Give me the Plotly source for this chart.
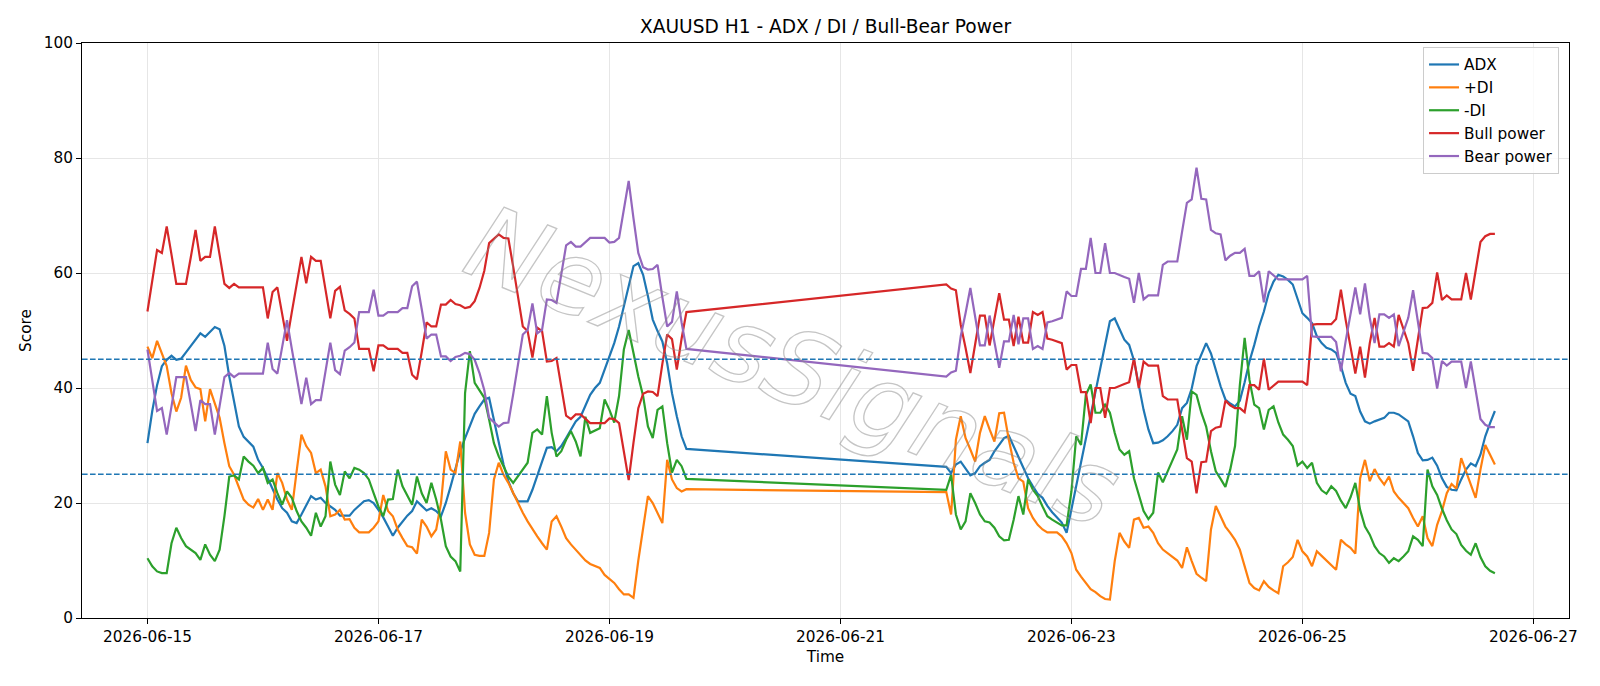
import pandas as pd
import plotly.graph_objects as go

# ---- time axis: two hourly trading segments (weekend gap is bridged by the lines) ----
segment_a = ("2026-06-15 00:00", "2026-06-19 16:00")
segment_b = ("2026-06-21 22:00", "2026-06-26 16:00")

# ---- series values (first 113 = segment A, next 115 = segment B) ----
adx = [
    30.4, 36.0, 40.5, 43.8, 44.9, 45.6, 44.9, 45.1, 46.2, 47.3, 48.3, 49.5,
    48.9, 49.8, 50.6, 50.2, 47.3, 42.0, 37.4, 33.3, 31.5, 30.7, 29.8, 27.5,
    26.1, 24.3, 22.3, 20.6, 19.1, 18.3, 16.8, 16.5, 18.0, 19.7, 21.2, 20.6,
    20.9, 20.0, 19.4, 18.8, 17.8, 17.8, 17.8, 18.8, 19.5, 20.3, 20.5, 20.0,
    18.8, 17.5, 15.9, 14.3, 15.7, 16.8, 17.8, 18.6, 20.3, 19.5, 18.7, 19.1,
    18.6, 17.7, 20.0, 22.9, 25.8, 29.0, 31.3, 33.5, 35.5, 36.8, 38.0, 38.3,
    34.5, 30.4, 26.7, 23.8, 21.7, 20.3, 20.3, 20.3, 22.3, 24.9, 27.2, 29.6,
    29.7, 29.0, 29.9, 31.3, 32.8, 34.2, 35.0, 36.8, 38.8, 40.0, 40.9, 43.2,
    45.5, 47.8, 50.7, 54.2, 57.7, 61.2, 61.7, 59.7, 56.0, 51.9, 49.9, 48.1,
    44.3, 39.1, 35.1, 31.6, 29.4,
    26.3, 25.2, 26.7, 27.2, 25.9, 24.8, 25.2, 26.4, 27.0, 27.5, 29.0, 30.1,
    31.3, 31.7, 29.9, 27.8, 26.1, 24.3, 22.9, 21.6, 20.9, 19.5, 18.4, 17.4,
    16.6, 14.8, 18.9, 23.0, 27.1, 31.2, 35.3, 39.4, 43.4, 47.5, 51.6, 52.1,
    50.1, 48.4, 47.5, 44.8, 40.5, 36.2, 32.8, 30.4, 30.5, 30.9, 31.6, 32.5,
    33.6, 36.5, 37.4, 39.9, 43.8, 45.8, 47.8, 46.0, 43.2, 40.3, 38.0, 37.3,
    36.8, 37.8, 41.0, 44.6, 47.5, 50.7, 53.3, 56.5, 58.5, 59.7, 59.4, 58.8,
    58.0, 55.4, 53.0, 52.2, 51.3, 49.0, 47.8, 47.0, 46.7, 46.1, 43.8, 40.9,
    39.0, 38.6, 35.9, 34.2, 33.8, 34.2, 34.5, 34.8, 35.7, 35.7, 35.4, 34.8,
    34.2, 31.6, 28.7, 27.4, 27.5, 27.9, 26.5, 24.3, 22.8, 22.3, 22.2, 24.1,
    25.8, 26.9, 26.4, 28.4, 31.6, 33.9, 36.0,
]

plus_di = [
    47.2, 45.2, 48.2, 46.1, 43.8, 39.1, 35.9, 38.3, 43.9, 41.4, 40.1, 39.8,
    34.2, 39.8, 37.4, 34.8, 30.4, 26.4, 24.9, 22.9, 20.6, 19.7, 19.2, 20.7,
    18.8, 20.6, 18.8, 25.2, 23.5, 20.6, 18.8, 25.5, 31.9, 29.9, 28.7, 25.2,
    25.8, 22.9, 17.7, 18.0, 18.8, 17.1, 17.2, 15.7, 14.9, 14.9, 14.9, 15.7,
    16.8, 21.4, 18.6, 17.7, 15.4, 13.9, 12.5, 12.3, 11.2, 17.1, 15.9, 14.2,
    15.4, 20.0, 29.0, 25.8, 25.2, 30.7, 18.3, 12.8, 11.0, 10.8, 10.8, 14.8,
    24.1, 27.0, 24.9, 23.5, 21.7, 20.0, 18.3, 16.8, 15.4, 14.2, 13.0, 11.9,
    16.8, 17.7, 15.9, 13.9, 12.8, 11.9, 11.0, 10.0, 9.4, 9.0, 8.7, 7.5,
    6.8, 6.1, 5.0, 4.1, 4.1, 3.5, 10.0, 15.5, 21.2, 20.0, 18.3, 16.5,
    27.5, 24.1, 22.6, 22.0, 22.4,
    21.9, 18.0, 31.0, 35.1, 31.3, 29.3, 27.2, 32.2, 35.1, 32.8, 30.7, 35.6,
    35.7, 31.0, 27.0, 24.3, 23.7, 19.1, 17.4, 16.2, 15.4, 14.9, 14.9, 14.9,
    14.2, 13.0, 11.3, 8.4, 7.2, 6.1, 5.0, 4.5, 3.8, 3.3, 3.2, 9.9,
    14.8, 13.3, 12.2, 17.1, 17.4, 15.7, 15.9, 14.8, 13.0, 11.9, 11.3, 10.6,
    10.0, 8.7, 12.3, 9.9, 7.7, 7.0, 6.4, 15.4, 19.5, 17.7, 15.9, 14.8,
    13.6, 11.9, 9.0, 6.1, 5.2, 4.8, 6.4, 5.4, 4.8, 4.3, 9.0, 9.7,
    10.6, 13.6, 11.6, 10.7, 9.0, 11.6, 10.8, 10.0, 9.3, 8.4, 13.6, 12.8,
    12.2, 11.2, 24.3, 27.5, 23.8, 25.9, 24.3, 23.2, 24.6, 22.0, 20.9, 20.0,
    19.1, 17.4, 15.9, 17.7, 13.9, 12.5, 16.2, 18.6, 21.7, 23.3, 22.5, 27.8,
    25.5, 23.3, 20.9, 25.8, 30.1, 28.4, 26.7,
]

minus_di = [
    10.4, 9.0, 8.1, 7.8, 7.8, 13.0, 15.7, 13.9, 12.5, 11.9, 11.3, 10.1,
    12.8, 11.0, 9.9, 11.9, 17.7, 24.6, 24.8, 24.1, 28.1, 27.2, 26.5, 25.2,
    26.1, 23.5, 24.1, 21.7, 19.7, 22.0, 20.9, 18.6, 16.8, 15.7, 14.3, 18.3,
    15.9, 17.7, 27.2, 23.2, 21.4, 25.5, 24.3, 26.1, 25.8, 25.2, 24.1, 21.7,
    19.4, 17.7, 20.6, 20.7, 25.8, 22.9, 21.2, 19.7, 24.6, 21.7, 20.0, 23.5,
    20.6, 17.1, 12.5, 10.7, 9.9, 8.1, 39.1, 46.4, 40.9, 39.7, 38.3, 34.5,
    30.4, 28.1, 26.4, 24.6, 23.5, 24.6, 25.7, 27.0, 32.2, 32.8, 31.9, 38.6,
    32.2, 28.1, 29.0, 31.0, 32.5, 30.7, 28.1, 35.0, 32.2, 32.6, 33.0, 38.0,
    36.2, 34.0, 38.6, 46.7, 50.1, 46.1, 42.0, 38.6, 33.3, 31.3, 36.2, 36.8,
    30.4, 25.3, 27.5, 26.4, 24.2,
    22.3, 24.9, 18.0, 15.4, 16.8, 21.7, 20.0, 18.0, 16.8, 16.6, 15.7, 14.2,
    13.5, 13.6, 17.1, 21.2, 18.0, 24.1, 22.3, 21.2, 19.4, 17.7, 17.1, 16.6,
    16.1, 16.1, 22.0, 31.6, 30.1, 38.8, 40.6, 35.7, 35.7, 37.1, 35.7, 32.2,
    29.3, 28.4, 29.0, 24.3, 21.2, 18.6, 17.2, 18.3, 25.3, 23.6, 25.5, 27.5,
    29.3, 35.1, 31.0, 39.4, 38.8, 35.7, 33.3, 29.0, 25.5, 24.2, 22.8, 25.8,
    29.9, 40.5, 48.7, 41.4, 37.1, 36.5, 32.8, 36.2, 36.8, 34.0, 31.9, 31.0,
    29.9, 26.5, 27.2, 26.1, 27.0, 23.5, 22.2, 21.6, 22.9, 22.1, 20.4, 19.1,
    21.0, 23.5, 18.8, 15.9, 14.5, 12.5, 11.3, 10.7, 9.6, 10.4, 9.9, 10.7,
    11.6, 14.2, 13.6, 12.5, 25.8, 22.9, 21.4, 19.0, 17.0, 15.4, 14.6, 12.7,
    11.7, 11.0, 13.0, 10.6, 9.0, 8.2, 7.8,
]

bull_power = [
    53.3, 58.8, 64.0, 63.5, 68.1, 63.2, 58.1, 58.1, 58.1, 62.7, 67.5, 62.1,
    62.8, 62.8, 68.1, 63.1, 58.1, 57.4, 58.1, 57.5, 57.5, 57.5, 57.5, 57.5,
    57.5, 52.1, 56.7, 57.5, 52.9, 48.2, 53.2, 58.3, 62.8, 58.2, 62.8, 62.1,
    62.1, 57.1, 52.1, 56.9, 57.6, 53.5, 52.9, 52.1, 46.8, 46.8, 46.8, 42.9,
    47.4, 47.4, 46.8, 46.8, 46.8, 46.1, 46.1, 42.3, 41.5, 46.3, 51.4, 50.7,
    50.7, 54.5, 54.5, 55.3, 54.6, 54.4, 53.9, 54.1, 55.1, 57.4, 60.4, 65.2,
    66.0, 66.7, 66.1, 66.0, 61.1, 55.8, 50.7, 49.9, 45.3, 50.5, 49.9, 44.6,
    44.7, 45.2, 39.9, 35.2, 34.6, 35.4, 35.4, 34.7, 33.9, 33.9, 33.9, 33.9,
    34.7, 34.6, 33.9, 29.0, 24.0, 30.5, 36.5, 39.0, 39.4, 39.3, 38.6, 44.2,
    49.3, 48.5, 43.2, 48.6, 53.2,
    58.0, 57.3, 57.0, 51.0, 47.0, 42.6, 47.6, 52.6, 52.6, 47.4, 52.0, 56.5,
    51.9, 51.9, 47.3, 52.4, 47.9, 47.9, 53.2, 52.7, 53.2, 48.6, 48.4, 48.1,
    47.8, 43.2, 44.0, 44.0, 39.3, 39.3, 33.9, 40.0, 40.0, 34.8, 40.0, 40.0,
    40.4, 40.7, 41.0, 45.2, 40.0, 44.6, 43.9, 43.9, 43.9, 38.6, 38.0, 38.0,
    38.0, 32.8, 27.8, 27.2, 21.7, 27.1, 27.2, 32.5, 33.1, 33.3, 37.8, 37.0,
    36.5, 36.5, 35.8, 40.5, 40.5, 39.7, 45.1, 39.7, 40.4, 41.1, 41.1, 41.1,
    41.1, 41.1, 41.1, 40.5, 51.0, 51.1, 51.1, 51.1, 51.1, 52.0, 57.1, 51.8,
    47.0, 42.5, 47.2, 41.8, 47.8, 52.2, 47.2, 47.2, 47.8, 47.2, 52.7, 50.3,
    47.8, 43.0, 48.2, 53.9, 54.0, 54.8, 60.1, 55.3, 56.1, 55.4, 55.4, 55.4,
    60.0, 55.4, 60.4, 65.4, 66.4, 66.8, 66.8,
]

bear_power = [
    46.7, 41.2, 36.0, 36.5, 31.9, 36.8, 41.9, 41.9, 41.9, 37.3, 32.5, 37.9,
    37.2, 37.2, 31.9, 36.9, 41.9, 42.6, 41.9, 42.5, 42.5, 42.5, 42.5, 42.5,
    42.5, 47.9, 43.3, 42.5, 47.1, 51.8, 46.8, 41.7, 37.2, 41.8, 37.2, 37.9,
    37.9, 42.9, 47.9, 43.1, 42.4, 46.5, 47.1, 47.9, 53.2, 53.2, 53.2, 57.1,
    52.6, 52.6, 53.2, 53.2, 53.2, 53.9, 53.9, 57.7, 58.5, 53.7, 48.6, 49.3,
    49.3, 45.5, 45.5, 44.7, 45.4, 45.6, 46.1, 45.9, 44.9, 42.6, 39.6, 34.8,
    34.0, 33.3, 33.9, 34.0, 38.9, 44.2, 49.3, 50.1, 54.7, 49.5, 50.1, 55.4,
    55.3, 54.8, 60.1, 64.8, 65.4, 64.6, 64.6, 65.3, 66.1, 66.1, 66.1, 66.1,
    65.3, 65.4, 66.1, 71.0, 76.0, 69.5, 63.5, 61.0, 60.6, 60.7, 61.4, 55.8,
    50.7, 51.5, 56.8, 51.4, 46.8,
    42.0, 42.7, 43.0, 49.0, 53.0, 57.4, 52.4, 47.4, 47.4, 52.6, 48.0, 43.5,
    48.1, 48.1, 52.7, 47.6, 52.1, 52.1, 46.8, 47.3, 46.8, 51.4, 51.6, 51.9,
    52.2, 56.8, 56.0, 56.0, 60.7, 60.7, 66.1, 60.0, 60.0, 65.2, 60.0, 60.0,
    59.6, 59.3, 59.0, 54.8, 60.0, 55.4, 56.1, 56.1, 56.1, 61.4, 62.0, 62.0,
    62.0, 67.2, 72.2, 72.8, 78.3, 72.9, 72.8, 67.5, 66.9, 66.7, 62.2, 63.0,
    63.5, 63.5, 64.2, 59.5, 59.5, 60.3, 54.9, 60.3, 59.6, 58.9, 58.9, 58.9,
    58.9, 58.9, 58.9, 59.5, 49.0, 48.9, 48.9, 48.9, 48.9, 48.0, 42.9, 48.2,
    53.0, 57.5, 52.8, 58.2, 52.2, 47.8, 52.8, 52.8, 52.2, 52.8, 47.3, 49.7,
    52.2, 57.0, 51.8, 46.1, 46.0, 45.2, 39.9, 44.7, 43.9, 44.6, 44.6, 44.6,
    40.0, 44.6, 39.6, 34.6, 33.6, 33.2, 33.2,
]

series_names = ["ADX", "+DI", "-DI", "Bull power", "Bear power"]
series_colors = ["#1f77b4", "#ff7f0e", "#2ca02c", "#d62728", "#9467bd"]
threshold_levels = [45, 25]
x_ticks = ["2026-06-15", "2026-06-17", "2026-06-19", "2026-06-21",
           "2026-06-23", "2026-06-25", "2026-06-27"]
x_range = ["2026-06-14 10:24", "2026-06-27 07:24"]
watermark = "NexusSignals"

times = list(pd.date_range(*segment_a, freq="h")) + list(pd.date_range(*segment_b, freq="h"))
all_series = [adx, plus_di, minus_di, bull_power, bear_power]
for s in all_series:
    assert len(s) == len(times), (len(s), len(times))

fig = go.Figure()
for name, color, vals in zip(series_names, series_colors, all_series):
    fig.add_trace(go.Scatter(
        x=times, y=vals, mode="lines", name=name,
        line=dict(color=color, width=2.2),
    ))

for lvl in threshold_levels:
    fig.add_shape(type="line", xref="paper", x0=0, x1=1, yref="y", y0=lvl, y1=lvl,
                  line=dict(color="#1f77b4", width=1.4, dash="5.6px,2.4px"), layer="above")

fig.add_annotation(
    text=watermark, xref="paper", yref="paper", x=0.478, y=0.438,
    showarrow=False, textangle=22,
    font=dict(family="DejaVu Sans", size=103, color="rgba(150,150,150,0.5)", style="italic"),
)

FS = 15.3
axis_common = dict(
    showgrid=True, gridcolor="#e6e6e6", gridwidth=1,
    showline=True, linecolor="black", linewidth=1, mirror=True,
    ticks="outside", ticklen=5, tickcolor="black", tickwidth=1,
    zeroline=False, automargin=False,
    tickfont=dict(family="DejaVu Sans", size=FS, color="black"),
)

fig.update_layout(
    width=1600, height=686,
    margin=dict(l=82, r=31, t=43, b=68),
    paper_bgcolor="white", plot_bgcolor="white",
    font=dict(family="DejaVu Sans", size=FS, color="black"),
    title=dict(text="XAUUSD H1 - ADX / DI / Bull-Bear Power", x=0.5, xref="paper",
               xanchor="center", y=0.962, yref="container", yanchor="middle",
               font=dict(family="DejaVu Sans", size=18.6, color="black")),
    xaxis=dict(type="date", range=x_range, tickvals=x_ticks, ticktext=x_ticks,
               title=dict(text="Time", standoff=5, font=dict(size=FS)), **axis_common),
    yaxis=dict(range=[0, 100], tickvals=[0, 20, 40, 60, 80, 100],
               title=dict(text="Score", standoff=8, font=dict(size=FS)), **axis_common),
    legend=dict(x=0.9933, xanchor="right", y=0.993, yanchor="top",
                bgcolor="rgba(255,255,255,0.8)", bordercolor="#cccccc", borderwidth=1,
                font=dict(family="DejaVu Sans", size=FS, color="black"),
                tracegroupgap=0, itemwidth=30),
    hovermode=False,
)

post_js = """
document.querySelectorAll('.annotation-text').forEach(function(t){
  if (t.textContent.indexOf('Signals') >= 0) {
    t.style.fill = 'none';
    t.style.stroke = 'rgba(140,140,140,0.5)';
    t.style.strokeWidth = '1.3px';
  }
});
"""
fig.write_html("out.html", post_script=post_js)
